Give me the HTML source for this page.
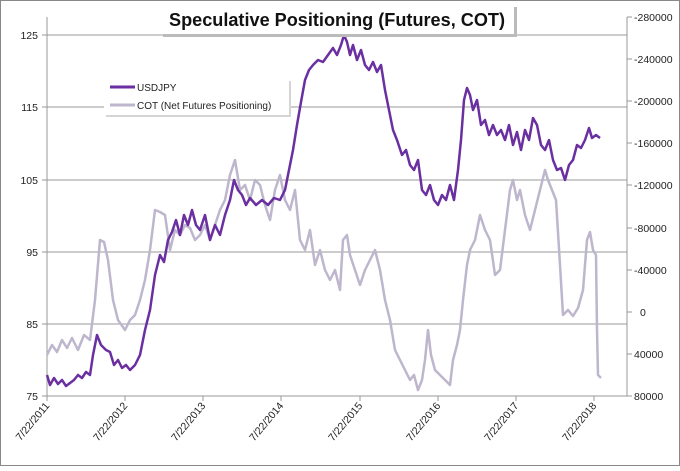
<!DOCTYPE html>
<html><head><style>
body{margin:0;background:#fff;}
svg text{font-family:"Liberation Sans",sans-serif;}
</style></head><body>
<svg width="680" height="466" xmlns="http://www.w3.org/2000/svg">
<rect x="0.5" y="0.5" width="679" height="465" fill="#fff" stroke="#888"/>
<g stroke="#999" stroke-width="1">
<line x1="47" y1="35" x2="627" y2="35"/>
<line x1="47" y1="107" x2="627" y2="107"/>
<line x1="47" y1="180" x2="627" y2="180"/>
<line x1="47" y1="252" x2="627" y2="252"/>
<line x1="47" y1="324" x2="627" y2="324"/>
<line x1="47" y1="396" x2="627" y2="396"/>
<line x1="47" y1="17" x2="47" y2="400"/>
<line x1="627" y1="17" x2="627" y2="396"/>
</g>
<g stroke="#999">
<line x1="42" y1="35" x2="47" y2="35"/><line x1="42" y1="107" x2="47" y2="107"/><line x1="42" y1="180" x2="47" y2="180"/><line x1="42" y1="252" x2="47" y2="252"/><line x1="42" y1="324" x2="47" y2="324"/><line x1="42" y1="396" x2="47" y2="396"/>
<line x1="627" y1="17" x2="632" y2="17"/><line x1="627" y1="59" x2="632" y2="59"/><line x1="627" y1="101" x2="632" y2="101"/><line x1="627" y1="143" x2="632" y2="143"/><line x1="627" y1="185" x2="632" y2="185"/><line x1="627" y1="228" x2="632" y2="228"/><line x1="627" y1="270" x2="632" y2="270"/><line x1="627" y1="312" x2="632" y2="312"/><line x1="627" y1="354" x2="632" y2="354"/><line x1="627" y1="396" x2="632" y2="396"/>
<line x1="47" y1="396" x2="47" y2="401"/><line x1="125" y1="396" x2="125" y2="401"/><line x1="203" y1="396" x2="203" y2="401"/><line x1="281" y1="396" x2="281" y2="401"/><line x1="360" y1="396" x2="360" y2="401"/><line x1="438" y1="396" x2="438" y2="401"/><line x1="516" y1="396" x2="516" y2="401"/><line x1="594" y1="396" x2="594" y2="401"/>
</g>
<g font-size="10.5" fill="#222" text-anchor="end">
<text x="38" y="39">125</text><text x="38" y="111">115</text><text x="38" y="184">105</text><text x="38" y="256">95</text><text x="38" y="328">85</text><text x="38" y="400">75</text>
</g>
<g font-size="10.5" fill="#222">
<text x="634" y="21">-280000</text><text x="634" y="63">-240000</text><text x="634" y="105">-200000</text><text x="634" y="147">-160000</text><text x="634" y="189">-120000</text><text x="634" y="232">-80000</text><text x="634" y="274">-40000</text><text x="640" y="316">0</text><text x="634" y="358">40000</text><text x="634" y="400">80000</text>
</g>
<g font-size="10.5" fill="#222" text-anchor="end">
<text transform="translate(50,406) rotate(-50)">7/22/2011</text>
<text transform="translate(128,406) rotate(-50)">7/22/2012</text>
<text transform="translate(206,406) rotate(-50)">7/22/2013</text>
<text transform="translate(284,406) rotate(-50)">7/22/2014</text>
<text transform="translate(363,406) rotate(-50)">7/22/2015</text>
<text transform="translate(441,406) rotate(-50)">7/22/2016</text>
<text transform="translate(519,406) rotate(-50)">7/22/2017</text>
<text transform="translate(597,406) rotate(-50)">7/22/2018</text>
</g>
<polyline fill="none" stroke="#bdb6cc" stroke-width="2.5" stroke-linejoin="round" points="47,355 52,345 57,352 62,340 67,348 72,338 78,350 84,335 90,340 95,300 100,240 104,242 108,260 113,300 118,320 125,330 130,320 135,315 140,300 145,280 150,250 155,210 160,212 165,215 170,250 175,230 180,235 185,225 190,228 195,240 200,235 205,225 210,240 215,225 220,210 225,200 230,175 235,160 240,190 245,185 250,200 255,180 260,185 265,205 270,220 275,190 280,175 285,200 290,210 295,190 300,240 305,250 310,230 315,265 320,250 325,270 330,280 335,270 340,290 343,240 347,235 350,255 355,270 360,285 365,270 370,260 375,250 380,270 385,300 390,320 395,350 400,360 405,370 410,380 414,375 418,390 422,380 425,360 428,330 431,355 435,370 440,375 445,380 450,385 453,360 457,345 460,330 463,300 467,265 470,250 475,240 480,215 485,230 490,240 495,275 500,270 505,230 510,190 513,180 517,200 520,190 525,215 530,230 535,210 540,190 545,170 548,180 552,190 556,200 560,265 563,315 568,310 573,316 578,308 583,290 587,240 590,232 593,250 596,255 597,330 598,375 601,378"/>
<polyline fill="none" stroke="#6a2fa0" stroke-width="2.5" stroke-linejoin="round" points="47,375 50,385 54,378 58,384 62,380 66,386 70,383 74,380 78,375 82,378 86,372 90,375 93,355 97,335 101,345 106,350 110,352 114,365 118,360 122,368 126,365 130,370 135,365 140,355 145,330 150,310 155,275 160,255 164,262 168,240 172,232 176,220 180,235 184,215 188,225 192,210 196,225 200,230 205,215 210,240 215,225 220,235 225,215 230,200 234,180 238,190 242,195 246,205 250,198 256,205 262,200 268,205 274,198 280,200 285,190 289,170 293,150 297,125 301,102 305,80 309,70 313,65 318,60 323,62 328,55 333,48 337,55 341,45 344,35 347,42 350,55 353,45 357,60 361,50 365,65 369,70 373,62 377,72 381,65 385,90 389,110 393,130 397,140 402,155 406,150 410,165 414,170 418,160 422,190 426,195 430,185 434,200 438,205 442,195 446,200 450,185 454,200 458,170 461,140 464,100 467,88 470,95 473,110 477,100 481,125 485,120 489,135 493,125 497,135 501,130 505,140 509,125 513,145 517,132 521,150 525,130 529,140 533,118 537,125 541,145 545,150 549,140 553,160 557,170 561,168 565,180 569,165 573,160 577,145 581,148 585,140 589,128 592,138 596,135 600,138"/>
<rect x="163" y="7" width="354" height="30" fill="#bbb"/>
<rect x="160" y="4" width="354" height="30" fill="#fff"/>
<text x="337" y="26" font-size="18" font-weight="bold" text-anchor="middle" fill="#111" textLength="336" lengthAdjust="spacingAndGlyphs">Speculative Positioning (Futures, COT)</text>
<rect x="106" y="81" width="185" height="36" fill="#d5d5d5"/>
<rect x="104" y="79" width="185" height="36" fill="#fff"/>
<line x1="110" y1="87" x2="135" y2="87" stroke="#6a2fa0" stroke-width="3"/>
<text x="137" y="91" font-size="10" fill="#222">USDJPY</text>
<line x1="110" y1="105" x2="135" y2="105" stroke="#bdb6cc" stroke-width="3"/>
<text x="137" y="109" font-size="10" fill="#222">COT (Net Futures Positioning)</text>
</svg>
</body></html>
